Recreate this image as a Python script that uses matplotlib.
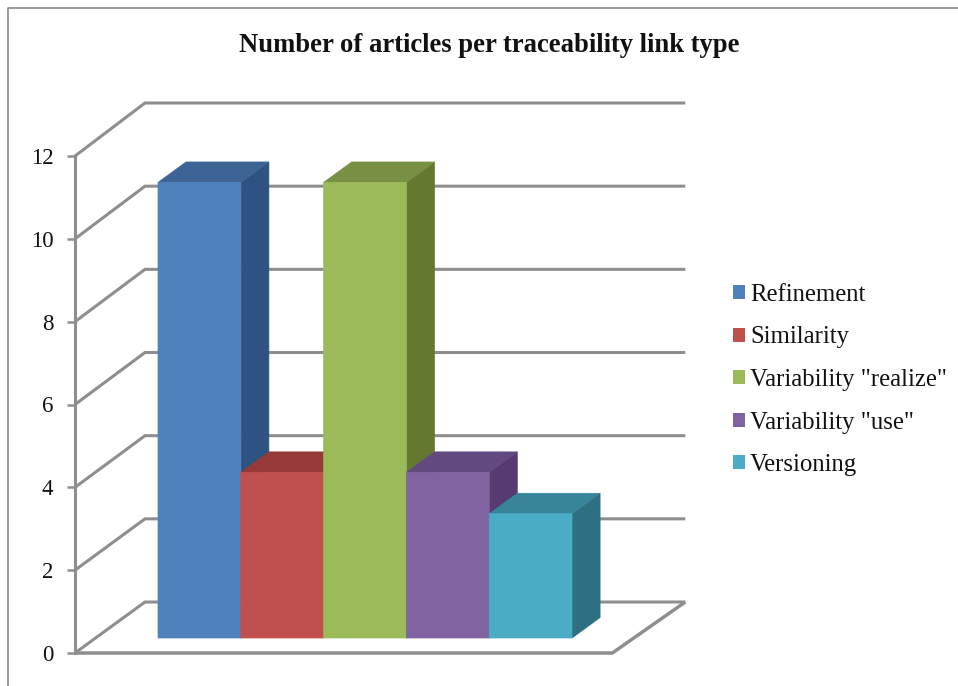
import matplotlib
matplotlib.use("Agg")
import matplotlib.pyplot as plt
from matplotlib.lines import Line2D
from matplotlib.patches import Patch, Polygon

labels = ["Refinement", "Similarity", 'Variability "realize"', 'Variability "use"', "Versioning"]
counts = [11, 4, 11, 4, 3]
yticks = [0, 2, 4, 6, 8, 10, 12]

front_colors = ["#4F81BD", "#C0504D", "#9BBB59", "#8064A2", "#4BACC6"]
top_colors = ["#3C6494", "#953A38", "#779043", "#62497F", "#37859A"]
side_colors = ["#2F5380", "#7F2F2D", "#64792F", "#553B72", "#2F6F82"]
line_color = "#8E8E8E"

W, H = 958, 686
plt.rcParams["font.family"] = ["Liberation Serif", "DejaVu Serif"]

fig = plt.figure(figsize=(W / 100, H / 100), dpi=100)
# axes box is the front plane of the chart, in pixels from the top-left corner
x0, x1, y0, y1 = 75, 685, 653, 156
ax = fig.add_axes([x0 / W, 1 - y0 / H, (x1 - x0) / W, (y0 - y1) / H])

unit_x = 82.8
ax.set_xlim(0, (x1 - x0) / unit_x)
ax.set_ylim(0, 12)
unit_y = (y0 - y1) / 12

# shift of the back wall relative to the front plane, in data units
depth_x = 70 / unit_x
depth_y = 51 / unit_y
back_scale = 1.004
bar_near = 0.294
bar_far = 0.695
gap = 0.754
floor_w = 6.49
back_w = 6.525


def proj(x, y, d):
    return x + d * depth_x, y + d * depth_y


def wall_line(points, lw=2.2):
    xs, ys = zip(*[proj(*p) for p in points])
    ax.add_line(Line2D(xs, ys, color=line_color, lw=lw, clip_on=False,
                       solid_joinstyle="miter", solid_capstyle="butt", zorder=1))


def face(points, color, z):
    # a hairline edge in the fill colour closes the seams between faces
    ax.add_patch(Polygon(points, closed=True, fc=color, ec=color, lw=0.5, zorder=z,
                         clip_on=False, snap=False))


# gridlines run along the side wall and then across the back wall
for v in yticks:
    wall_line([(0, v, 0), (0, v * back_scale, 1), (back_w, v * back_scale, 1)])
# floor outline
wall_line([(0, 0, 0), (floor_w, 0, 0), (back_w, 0, 1)], lw=2.5)

for i, val in enumerate(counts):
    left = gap + i
    right = left + 1
    front = [proj(left, 0, bar_near), proj(right, 0, bar_near),
             proj(right, val, bar_near), proj(left, val, bar_near)]
    top = [proj(left, val, bar_near), proj(right, val, bar_near),
           proj(right, val, bar_far), proj(left, val, bar_far)]
    side = [proj(right, 0, bar_near), proj(right, 0, bar_far),
            proj(right, val, bar_far), proj(right, val, bar_near)]
    z = 2 + i
    face(side, side_colors[i], z)
    face(top, top_colors[i], z)
    face(front, front_colors[i], z)

for name, spine in ax.spines.items():
    spine.set_visible(name == "left")
ax.spines["left"].set_color(line_color)
ax.spines["left"].set_linewidth(2.2)
ax.patch.set_visible(False)
ax.set_xticks([])
ax.set_yticks(yticks)
ax.tick_params(axis="y", length=5.5, width=1.8, color=line_color, labelsize=16.5, pad=10, labelcolor="#111111")

fig.text(489 / W, 1 - 46 / H, "Number of articles per traceability link type",
         ha="center", va="center", fontsize=19.2, fontweight="bold", color="#111111")

handles = [Patch(fc=c, ec="none") for c in front_colors]
fig.legend(handles, labels, loc="center left", bbox_to_anchor=(733 / W, 1 - 380 / H),
           frameon=False, fontsize=17.8, labelcolor="#111111", handlelength=0.486, handleheight=0.486,
           handletextpad=0.2, labelspacing=0.83, borderpad=0, borderaxespad=0)

# thin frame around the chart area, open on the right and bottom
fig.add_artist(Line2D([8 / W, 8 / W, 1], [0, 1 - 7.5 / H, 1 - 7.5 / H],
                      transform=fig.transFigure, color="#8A8A8A", lw=1.2))

fig.savefig("out.png", dpi=100)
